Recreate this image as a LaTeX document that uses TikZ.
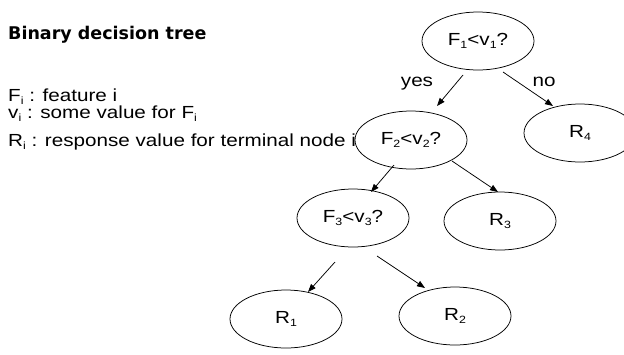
\documentclass[tikz,border=0pt]{standalone}
\usepackage{fontspec}
\setmainfont{Liberation Sans}[FakeStretch=1.18]
\newfontfamily\titlefont{DejaVu Sans}
\usetikzlibrary{shapes.geometric,arrows.meta,calc}
\newcommand\sbs[1]{\raisebox{-3pt}{\fontsize{10.5}{10.5}\selectfont #1}}
\tikzset{
  ell/.style={draw, ellipse, minimum width=112pt, minimum height=58pt, inner sep=0pt,
    line width=0.75pt, font=\fontsize{17.5}{21}\selectfont},
  arr/.style={-{Triangle[length=8pt,width=6pt]}, line width=0.75pt},
  txt/.style={anchor=base west, inner sep=0pt, font=\fontsize{17.5}{21}\selectfont},
  lbl/.style={anchor=base, inner sep=0pt, font=\fontsize{17.5}{21}\selectfont}
}
\begin{document}
\begin{tikzpicture}[x=1pt,y=-1pt]
\useasboundingbox (0,0) rectangle (624,354);
\node[txt] (title) at (8,39) {\titlefont\bfseries Binary decision tree};
\node[txt] (l1) at (8,101) {F\sbs{i} : feature i};
\node[txt] (l2) at (8,118.5) {v\sbs{i} : some value for F\sbs{i}};
\node[txt] (l3) at (8,146) {R\sbs{i} : response value for terminal node i};

\node[ell] (F1) at (478,41) {F\sbs{1}<v\sbs{1}?};
\node[ell] (F2) at (411,140) {F\sbs{2}<v\sbs{2}?};
\node[ell] (R4) at (580,133) {R\sbs{4}};
\node[ell] (F3) at (353,218) {F\sbs{3}<v\sbs{3}?};
\node[ell] (R3) at (500,221) {R\sbs{3}};
\node[ell] (R1) at (286,319) {R\sbs{1}};
\node[ell] (R2) at (455,316) {R\sbs{2}};

\draw[arr] ($(F1)+(-15,34)$) -- ($(F2)+(26,-34)$);
\draw[arr] ($(F1)+(25,31)$) -- ($(R4)+(-27,-27)$);
\draw[arr] ($(F2)+(-17,25)$) -- ($(F3)+(18,-26)$);
\draw[arr] ($(F2)+(41,21)$) -- ($(R3)+(-2,-29)$);
\draw[arr] ($(F3)+(-18,44)$) -- ($(R1)+(22,-27)$);
\draw[arr] ($(F3)+(24,38)$) -- ($(R2)+(-30,-28)$);

\node[lbl] (yes) at (417,86) {yes};
\node[lbl] (no) at (544,86) {no};
\end{tikzpicture}
\end{document}
